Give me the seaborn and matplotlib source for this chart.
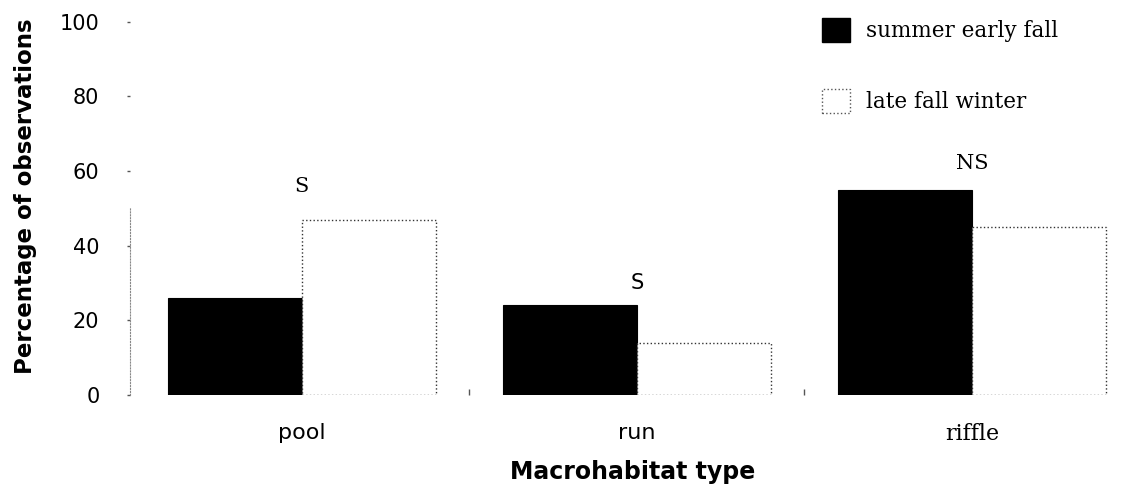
import matplotlib
matplotlib.use("Agg")
import matplotlib.pyplot as plt
from matplotlib.patches import Patch
import pandas as pd
import seaborn as sns

# Habitat-use percentages by season
habitats = ["pool", "run", "riffle"]
summer_early_fall = [26, 24, 55]
late_fall_winter = [47, 14, 45]
season_labels = ["summer early fall", "late fall winter"]
significance = ["S", "S", "NS"]
yticks = [0, 20, 40, 60, 80, 100]

df = pd.DataFrame({
    "habitat": habitats * 2,
    "season": [season_labels[0]] * 3 + [season_labels[1]] * 3,
    "pct": summer_early_fall + late_fall_winter,
})

sns.set_theme(style="white")
plt.rcParams["font.family"] = ["DejaVu Sans"]
for key in ["text.color", "axes.labelcolor", "xtick.color", "ytick.color"]:
    plt.rcParams[key] = "black"

fig = plt.figure(figsize=(11.35, 4.95), dpi=100)
ax = fig.add_axes([0.1145, 0.202, 0.8855, 0.754])

sns.barplot(data=df, x="habitat", y="pct", hue="season", order=habitats,
            hue_order=season_labels, palette=["black", "white"],
            width=0.8, gap=0, legend=False, ax=ax, errorbar=None)

# summer bars solid black, winter bars white with dotted outline
for bar in ax.containers[0]:
    bar.set_edgecolor("black")
    bar.set_linewidth(0.8)
for bar in ax.containers[1]:
    bar.set_edgecolor("#333333")
    bar.set_linestyle(":")
    bar.set_linewidth(1.0)

ax.set_xlim(-0.513, 2.487)
ax.set_ylim(0, 100)
ax.set_yticks(yticks)
ax.set_yticklabels([str(t) for t in yticks], fontsize=15)
ax.set_xticks(range(len(habitats)))
ax.set_xticklabels(habitats, fontsize=16)
ax.get_xticklabels()[2].set_family("DejaVu Serif")
ax.set_xticks([0.5, 1.5], minor=True)
ax.tick_params(axis="y", length=2, width=1, pad=20, left=True, color="#555555")
ax.tick_params(axis="x", which="major", length=0, pad=20)
ax.tick_params(axis="x", which="minor", length=4, width=1, bottom=True,
               color="#555555", direction="in")

for side in ["top", "right", "bottom"]:
    ax.spines[side].set_visible(False)
ax.spines["left"].set_linestyle(":")
ax.spines["left"].set_color("#888888")
ax.spines["left"].set_linewidth(0.8)
ax.spines["left"].set_bounds(0, 50)

ax.set_ylabel("Percentage of observations", fontsize=16.5, fontweight="bold")
ax.yaxis.set_label_coords(-0.0925, 0.533)
ax.set_xlabel("Macrohabitat type", fontsize=17, fontweight="bold", labelpad=11)

# significance markers above each habitat group
sig_y = [56, 30, 62]
sig_font = ["DejaVu Serif", "DejaVu Sans", "DejaVu Serif"]
for i, (lab, yy, fam) in enumerate(zip(significance, sig_y, sig_font)):
    ax.text(i, yy, lab, ha="center", va="center", fontsize=15, family=fam)

handles = [
    Patch(facecolor="black", edgecolor="black"),
    Patch(facecolor="white", edgecolor="#555555", linestyle=":", linewidth=1),
]
leg = fig.legend(handles, season_labels, loc="upper left",
                 bbox_to_anchor=(0.715, 0.985), frameon=False,
                 prop={"family": "DejaVu Serif", "size": 15.5},
                 handlelength=1.3, handleheight=1.3, labelspacing=2.2,
                 borderpad=0, handletextpad=0.75)

fig.savefig("out.png", dpi=100)
